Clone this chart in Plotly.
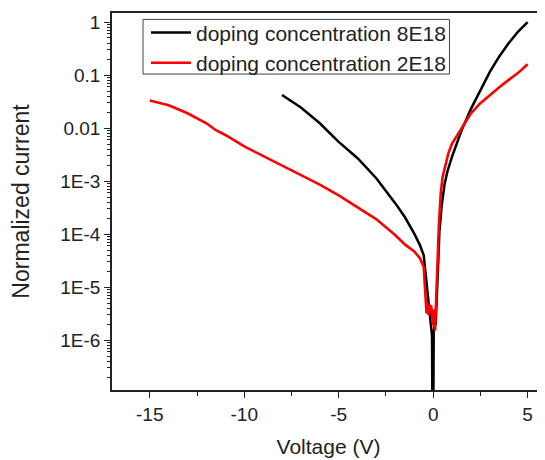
import plotly.graph_objects as go

# Data: doping concentration 8E18 (black)
v_8e18 = [-8, -7, -6, -5, -4, -3, -2, -1.5, -1, -0.7, -0.5, -0.42, -0.3, -0.2, -0.12, -0.06,
          -0.03, 0.0, 0.03, 0.07, 0.1, 0.13, 0.2, 0.27, 0.33, 0.45, 0.6, 0.75, 1, 1.5, 2, 2.5,
          3, 3.5, 4, 4.5, 5]
i_8e18 = [4.2e-2, 2.45e-2, 1.23e-2, 5.5e-3, 2.7e-3, 1.12e-3, 3.8e-4, 2.1e-4, 1.02e-4, 6.2e-5,
          4.0e-5, 2.2e-5, 8e-6, 3.5e-6, 1.8e-6, 1.2e-6,
          1e-8, 1e-8, 1.4e-6, 1.8e-6, 2.2e-6, 1.9e-6, 6e-6, 3e-5, 1.1e-4, 3.4e-4, 8.5e-4, 1.5e-3,
          2.9e-3, 9.0e-3, 2.3e-2, 5.2e-2, 1.15e-1, 2.24e-1, 4.0e-1, 6.6e-1, 1.0]

# Data: doping concentration 2E18 (red)
v_2e18 = [-15, -14, -13, -12, -11.5, -11, -10, -9, -8, -7, -6, -5, -4, -3, -2, -1.5, -1, -0.7,
          -0.5, -0.42, -0.35, -0.3, -0.25, -0.18, -0.1, -0.05, 0.0, 0.05, 0.1, 0.16, 0.22, 0.3,
          0.4, 0.5, 0.8, 1, 1.5, 2, 2.5, 3, 3.5, 4, 4.5, 5]
i_2e18 = [3.3e-2, 2.7e-2, 1.9e-2, 1.23e-2, 9.1e-3, 7.4e-3, 4.5e-3, 3.0e-3, 2.0e-3, 1.3e-3,
          8.6e-4, 5.4e-4, 3.2e-4, 1.9e-4, 9.5e-5, 6.4e-5, 4.7e-5, 3.5e-5,
          2.4e-5, 1.0e-5, 3.2e-6, 5e-6, 3e-6, 4.2e-6, 4.5e-6, 2.4e-6, 1.9e-6, 3.8e-6, 1.5e-6,
          6e-6, 3e-5, 1.4e-4, 5.9e-4, 1.2e-3, 3.3e-3, 5.1e-3, 9.8e-3, 1.9e-2, 2.95e-2, 4.2e-2,
          5.9e-2, 8.1e-2, 1.1e-1, 1.6e-1]

x_ticks = [-15, -10, -5, 0, 5]
y_tickvals = [1, 0.1, 0.01, 1e-3, 1e-4, 1e-5, 1e-6]
y_ticktext = ["1", "0.1", "0.01", "1E-3", "1E-4", "1E-5", "1E-6"]

FONT = "Arial, Liberation Sans, sans-serif"
TXT = "#222222"

fig = go.Figure()
fig.add_trace(go.Scatter(x=v_8e18, y=i_8e18, mode="lines", name="doping concentration 8E18",
                         line=dict(color="black", width=2.5)))
fig.add_trace(go.Scatter(x=v_2e18, y=i_2e18, mode="lines", name="doping concentration 2E18",
                         line=dict(color="#ff0000", width=2.6)))

minor_y = [m * 10.0 ** k for k in range(-8, 1) for m in range(2, 10)]

# legend frame (drawn as a shape for tight padding)
fig.add_shape(type="rect", xref="paper", yref="paper", x0=0.0716, x1=0.7794, y0=0.838, y1=0.983,
              line=dict(color="#444444", width=1), layer="above")

# The page body adds an 8px offset; figure is sized to fill the remaining window.
fig.update_layout(
    width=537, height=452,
    margin=dict(l=104, r=0, t=5, b=70),
    plot_bgcolor="white", paper_bgcolor="white",
    font=dict(family=FONT, color=TXT, size=19),
    showlegend=True,
    legend=dict(x=0.0785, y=1.002, xanchor="left", yanchor="top",
                borderwidth=0, bgcolor="rgba(0,0,0,0)",
                font=dict(size=21, family=FONT, color=TXT),
                tracegroupgap=0, itemwidth=40),
    xaxis=dict(range=[-17, 5.92], showline=True, linecolor="#222222", linewidth=1.5,
               mirror=True, ticks="outside", ticklen=6, tickwidth=1.2, tickcolor="#222222",
               tickvals=x_ticks, ticktext=[str(t) for t in x_ticks],
               showgrid=False, zeroline=False, automargin=False,
               minor=dict(ticks="outside", ticklen=4, tickcolor="#222222", dtick=2.5,
                          showgrid=False),
               tickfont=dict(size=19),
               title=dict(text="Voltage (V)", font=dict(size=21), standoff=16)),
    yaxis=dict(type="log", range=[-6.94, 0.17], showline=True, linecolor="#222222",
               linewidth=1.5, mirror=False, ticks="outside", ticklen=6, tickwidth=1.2,
               tickcolor="#222222", tickvals=y_tickvals, ticktext=y_ticktext,
               showgrid=False, zeroline=False, automargin=False,
               minor=dict(ticks="outside", ticklen=3, tickcolor="#222222",
                          tickvals=minor_y, showgrid=False),
               tickfont=dict(size=19),
               title=dict(text="Normalized current", font=dict(size=23), standoff=27)),
)

fig.write_html("out.html")
